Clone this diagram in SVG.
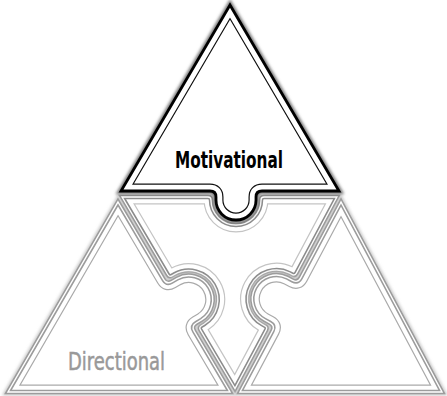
<svg xmlns="http://www.w3.org/2000/svg" width="447" height="396" viewBox="0 0 447 396">
<style>
.fill{fill:#fff}
.halo{fill:none;stroke:#c8c8c8;stroke-width:7;filter:url(#soft)}
.darkHalo{fill:none;stroke:#777;stroke-width:6;filter:url(#soft)}
.outerDark{fill:none;stroke:#000;stroke-width:2.8}
.outerGrey{fill:none;stroke:#9c9c9c;stroke-width:4.5}
.outerMid{fill:none;stroke:#8c8c8c;stroke-width:4.5}
.gap{fill:none;stroke:#fff;stroke-width:1.4}
.insetDark{fill:none;stroke:#111;stroke-width:15}
.insetGrey{fill:none;stroke:#aaa;stroke-width:15}
.insetLight{fill:none;stroke:#c4c4c4;stroke-width:15}
.insetW{fill:none;stroke:#fff;stroke-width:12.6}
.label{font-family:"DejaVu Sans Condensed","DejaVu Sans",sans-serif;font-stretch:condensed;text-anchor:middle}
</style>
<defs>
<filter id="soft" x="-10%" y="-10%" width="120%" height="120%"><feGaussianBlur stdDeviation="1.4"/></filter>
<path id="pTop" d="M230 5 L339 191 L262 191 Q256 191 256 197 L256 200 A20 20 0 0 1 216 200 L216 197 Q216 191 210 191 L121 191 Z"/>
<path id="pLeft" d="M118 202 L163.69 279.52 Q166.74 284.69 171.91 281.64 L177.08 278.60 A24 24 0 0 1 201.44 319.94 L196.27 322.98 Q191.10 326.03 194.15 331.20 L230 392 L8 392 Z"/>
<path id="pRight" d="M341 202 L300.64 277.93 Q297.82 283.23 292.52 280.41 L287.23 277.60 A24 24 0 0 0 264.71 319.98 L270.00 322.79 Q275.30 325.61 272.48 330.91 L240 392 L442 392 Z"/>
<path id="pMid" d="M122.05 197 L208 197 Q211 197 211 200 A25 25 0 0 0 261 200 Q261 197 264 197 L336.86 197 L296.28 273.35 Q294.87 276.00 292.22 274.60 L289.58 273.19 A29 29 0 0 0 262.36 324.39 L265.00 325.80 Q267.65 327.20 266.24 329.85 L235 388.6 L200.34 329.87 Q198.81 327.29 201.39 325.77 L203.98 324.25 A29 29 0 0 0 174.54 274.29 L171.95 275.81 Q169.37 277.33 167.84 274.75 Z"/>
<clipPath id="cTop"><use href="#pTop"/></clipPath>
<clipPath id="cLeft"><use href="#pLeft"/></clipPath>
<clipPath id="cRight"><use href="#pRight"/></clipPath>
<clipPath id="cMid"><use href="#pMid"/></clipPath>
</defs>
<rect width="447" height="396" fill="#fff"/>
<g id="connectors"></g>
<g id="middle">
<use href="#pMid" class="halo"/>
<use href="#pMid" class="fill"/>
<g clip-path="url(#cMid)"><use href="#pMid" class="insetLight"/><use href="#pMid" class="insetW"/></g>
<use href="#pMid" class="outerMid"/>
<use href="#pMid" class="gap"/>
</g>
<g id="directional">
<use href="#pLeft" class="halo"/>
<use href="#pLeft" class="fill"/>
<g clip-path="url(#cLeft)"><use href="#pLeft" class="insetGrey"/><use href="#pLeft" class="insetW"/></g>
<use href="#pLeft" class="outerGrey"/>
<use href="#pLeft" class="gap"/>
<text class="label" x="116.5" y="370" font-size="24" fill="#999" stroke="#999" stroke-width="0.5" textLength="97" lengthAdjust="spacingAndGlyphs">Directional</text>
</g>
<g id="right">
<use href="#pRight" class="halo"/>
<use href="#pRight" class="fill"/>
<g clip-path="url(#cRight)"><use href="#pRight" class="insetGrey"/><use href="#pRight" class="insetW"/></g>
<use href="#pRight" class="outerGrey"/>
<use href="#pRight" class="gap"/>
</g>
<g id="motivational">
<use href="#pTop" class="darkHalo"/>
<use href="#pTop" class="fill"/>
<g clip-path="url(#cTop)"><use href="#pTop" class="insetDark"/><use href="#pTop" class="insetW"/></g>
<use href="#pTop" class="outerDark"/>
<text class="label" x="229" y="168" font-size="23" font-weight="bold" fill="#000" textLength="108" lengthAdjust="spacingAndGlyphs">Motivational</text>
</g>
</svg>
